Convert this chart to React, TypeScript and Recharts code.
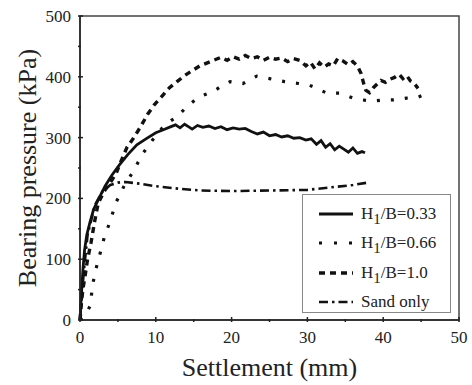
import React from "react";
import { LineChart, Line, XAxis, YAxis, ReferenceArea } from "recharts";

// H1/B = 0.33 (solid)
const s033 = [0, 0.2, 0.4, 0.6, 0.9, 1.3, 1.8, 2.5, 3.3, 4.2, 5.2, 6.3, 7.5, 8.7, 10, 11, 12, 12.6, 13.2, 13.8, 14.3, 14.8, 15.5, 16.2, 17, 17.8, 18.6, 19.4, 20.2, 21, 21.8, 22.6, 23.4, 24.2, 25, 25.8, 26.6, 27.4, 28.2, 29, 29.8, 30.5, 31.2, 31.8, 32.4, 33, 33.6, 34.2, 34.8, 35.4, 36, 36.6, 37.2, 37.6];
const p033 = [0, 45, 85, 115, 140, 160, 182, 200, 220, 238, 255, 272, 288, 298, 308, 313, 318, 321, 316, 322, 318, 314, 320, 317, 319, 315, 318, 313, 316, 314, 315, 310, 306, 309, 303, 305, 301, 303, 299, 300, 296, 298, 289, 295, 284, 290, 280, 286, 281, 276, 283, 274, 277, 275];

// H1/B = 0.66 (dotted)
const s066 = [0, 0.5, 1.0, 1.4, 1.6, 2.0, 2.6, 3.2, 4.0, 4.7, 5.8, 7.0, 8.3, 9.5, 10.8, 12.0, 12.8, 14.1, 15.2, 16.3, 17.6, 18.7, 19.8, 21.5, 23.3, 25, 27, 28.8, 30.3, 31.2, 32.6, 34.3, 36, 37.2, 38.7, 40, 41.3, 42.2, 43.1, 44.5, 45.3];
const p066 = [0, 5, 15, 25, 53, 79, 107, 136, 163, 192, 220, 244, 274, 295, 315, 328, 334, 351, 362, 370, 376, 385, 392, 389, 401, 397, 392, 389, 386, 381, 373, 373, 365, 362, 360, 362, 362, 363, 365, 366, 370];

// H1/B = 1.0 (dashed)
const s100 = [0, 0.2, 0.4, 0.65, 1.0, 1.45, 1.9, 2.4, 3.2, 4.0, 4.8, 5.3, 6.2, 7.0, 8.0, 8.9, 9.8, 10.8, 11.8, 12.8, 13.8, 14.8, 15.8, 16.8, 17.8, 18.6, 19.4, 20.2, 21, 21.8, 22.6, 23.4, 24.2, 25, 25.8, 26.6, 27.4, 28.2, 29, 29.8, 30.4, 31, 31.6, 32.2, 32.8, 33.4, 34, 34.7, 35.4, 36, 36.6, 37.1, 37.4, 37.7, 38.2, 38.7, 39.2, 39.7, 40.3, 40.9, 41.5, 42.1, 42.6, 43.1, 43.6, 44.1, 44.6];
const p100 = [0, 30, 52, 71, 100, 127, 160, 192, 212, 226, 242, 258, 284, 298, 318, 338, 354, 368, 382, 392, 402, 410, 418, 423, 428, 432, 427, 433, 429, 435, 430, 433, 427, 432, 429, 431, 425, 430, 427, 418, 424, 413, 423, 416, 421, 418, 430, 426, 420, 425, 418, 405, 390, 378, 374, 382, 388, 394, 391, 396, 399, 404, 397, 402, 393, 389, 381];

// Sand only (dash-dot)
const sSand = [0, 0.5, 1, 2, 3, 4, 5, 6, 8, 10, 13, 16, 20, 25, 30, 33, 36, 38];
const pSand = [0, 80, 140, 190, 212, 222, 226, 227, 224, 220, 216, 213, 212, 213, 214, 218, 222, 226];

const xTicks = [0, 5, 10, 15, 20, 25, 30, 35, 40, 45, 50];
const yTicks = [0, 50, 100, 150, 200, 250, 300, 350, 400, 450, 500];

const toRows = (s: number[], p: number[]) => s.map((v, i) => ({ s: v, p: p[i] }));

const series = [
  { name: "0.33", label: "=0.33", data: toRows(s033, p033), dash: undefined, width: 2.8 },
  { name: "0.66", label: "=0.66", data: toRows(s066, p066), dash: "3 11", width: 3.2 },
  { name: "1.0", label: "=1.0", data: toRows(s100, p100), dash: "6 5", width: 3.4 },
  { name: "sand", label: "Sand only", data: toRows(sSand, pSand), dash: "9 4 2.5 4", width: 2.6 },
];

const FONT = "'Liberation Serif', 'Times New Roman', serif";

const XTick = (props: any) => {
  const { x, y, payload } = props;
  const major = payload.value % 10 === 0;
  return (
    <g>
      <line x1={x} x2={x} y1={y} y2={y - (major ? 5 : 3)} stroke="#222" strokeWidth={1.5} />
      {major && (
        <text x={x} y={y + 21} textAnchor="middle" style={{ fontFamily: FONT, fontSize: 17 }} fill="#222">
          {payload.value}
        </text>
      )}
    </g>
  );
};

const YTick = (props: any) => {
  const { x, y, payload } = props;
  const major = payload.value % 100 === 0;
  return (
    <g>
      <line x1={x} x2={x + (major ? 5 : 3)} y1={y} y2={y} stroke="#222" strokeWidth={1.5} />
      {major && (
        <text x={x - 7} y={y + 6} textAnchor="end" style={{ fontFamily: FONT, fontSize: 17 }} fill="#222">
          {payload.value}
        </text>
      )}
    </g>
  );
};

const LegendBox = () => (
  <div
    style={{
      position: "absolute",
      left: 302,
      top: 194,
      border: "1.5px solid #888",
      background: "#fff",
      width: 149,
      height: 119,
      boxSizing: "border-box",
      fontFamily: FONT,
      fontSize: 17,
      color: "#222",
      padding: "4px 0 0 14px",
    }}
  >
    {series.map((s) => (
      <div key={s.name} style={{ display: "flex", alignItems: "center", height: 29.5 }}>
        <svg width={38} height={10} style={{ marginRight: 6 }}>
          <line
            x1={2}
            x2={36}
            y1={5}
            y2={5}
            stroke="#111"
            strokeWidth={s.width}
            strokeDasharray={s.name === "0.66" ? "3 12" : s.dash}
          />
        </svg>
        {s.name === "sand" ? (
          <span>{s.label}</span>
        ) : (
          <span>
            H<sub style={{ fontSize: 15, verticalAlign: -5, lineHeight: 0 }}>1</sub>/B{s.label}
          </span>
        )}
      </div>
    ))}
  </div>
);

export default function App() {
  return (
    <div style={{ position: "absolute", left: 0, top: 0, width: 472, height: 385 }}>
      <LineChart width={472} height={385} margin={{ top: 16, right: 13, left: 8, bottom: 5 }}>
        <XAxis
          type="number"
          dataKey="s"
          domain={[0, 50]}
          ticks={xTicks}
          tickSize={0}
          tickLine={false}
          tick={<XTick />}
          axisLine={{ stroke: "#222", strokeWidth: 1.5 }}
          height={60}
          label={{
            value: "Settlement (mm)",
            position: "insideBottom",
            offset: 4,
            style: { fontFamily: FONT, fontSize: 26, fill: "#222" },
          }}
        />
        <YAxis
          type="number"
          dataKey="p"
          domain={[0, 500]}
          ticks={yTicks}
          tickSize={0}
          tickLine={false}
          tick={<YTick />}
          axisLine={{ stroke: "#222", strokeWidth: 1.5 }}
          width={72}
          label={{
            value: "Bearing pressure (kPa)",
            angle: -90,
            position: "insideLeft",
            offset: 19,
            style: { fontFamily: FONT, fontSize: 26, fill: "#222", textAnchor: "middle" },
          }}
        />
        <ReferenceArea x1={0} x2={50} y1={0} y2={500} fill="none" stroke="#444" strokeWidth={1.5} ifOverflow="visible" />
        {series.map((s) => (
          <Line
            key={s.name}
            data={s.data}
            dataKey="p"
            type="linear"
            stroke="#111"
            strokeWidth={s.width}
            strokeDasharray={s.dash}
            dot={false}
            isAnimationActive={false}
          />
        ))}
      </LineChart>
      <LegendBox />
    </div>
  );
}
